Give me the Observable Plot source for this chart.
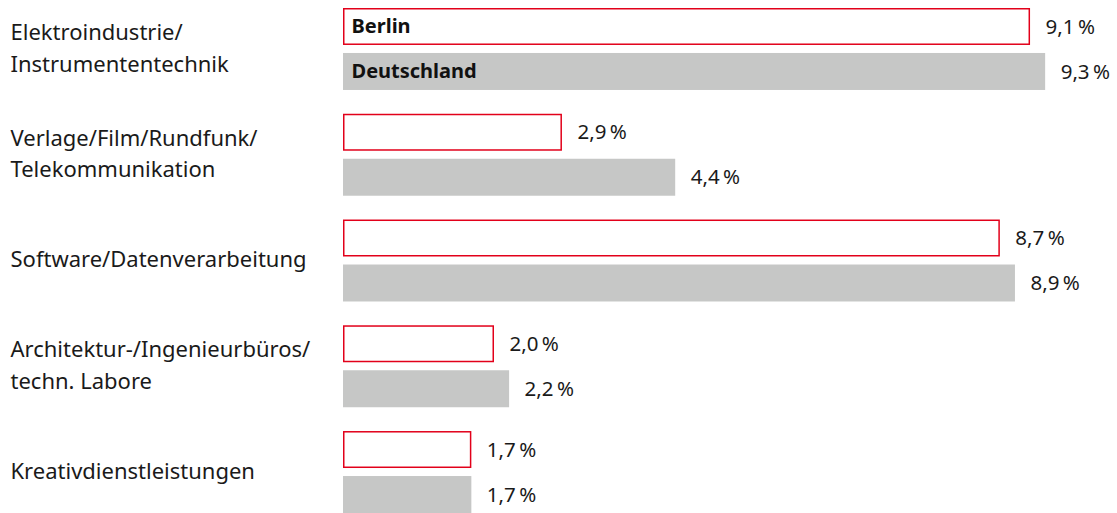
<!DOCTYPE html>
<html>
<head>
<meta charset="utf-8">
<script src="https://cdn.jsdelivr.net/npm/d3@7"></script>
<script src="https://cdn.jsdelivr.net/npm/@observablehq/plot@0.6"></script>
<style>
  html, body { margin: 0; padding: 0; background: #fff; }
  #chart svg { display: block; }
</style>
</head>
<body>
<div id="chart"></div>
<script>
const categories = [
  "Elektroindustrie/\nInstrumententechnik",
  "Verlage/Film/Rundfunk/\nTelekommunikation",
  "Software/Datenverarbeitung",
  "Architektur-/Ingenieurbüros/\ntechn. Labore",
  "Kreativdienstleistungen"
];
const seriesNames = ["Berlin", "Deutschland"];
const berlin = [9.1, 2.9, 8.7, 2.0, 1.7];
const deutschland = [9.3, 4.4, 8.9, 2.2, 1.7];

const rows = [];
categories.forEach((c, i) => {
  rows.push({cat: c, series: "Berlin", value: berlin[i]});
  rows.push({cat: c, series: "Deutschland", value: deutschland[i]});
});
const seriesLabels = seriesNames.map(s => ({cat: categories[0], series: s}));
const fmt = v => v.toFixed(1).replace(".", ",") + "\u2009%";

const RED = "#e2001a";
const GREY = "#c6c7c6";
const FONT = "'Noto Sans', Lato, sans-serif";

const chart = Plot.plot({
  width: 1117,
  height: 513,
  marginLeft: 343,
  marginRight: 19,
  marginTop: 8,
  marginBottom: 0,
  style: {fontFamily: FONT, background: "#fff"},
  x: {domain: [0, 10], axis: null},
  y: {domain: seriesNames, paddingInner: 0.178, paddingOuter: 0, round: false, axis: null},
  fy: {domain: categories, paddingInner: 0.225, paddingOuter: 0, round: false, axis: null},
  marks: [
    Plot.barX(rows.filter(d => d.series === "Deutschland"), {
      x: "value", y: "series", fy: "cat", fill: GREY
    }),
    Plot.barX(rows.filter(d => d.series === "Berlin"), {
      x: "value", y: "series", fy: "cat", fill: "#fff", stroke: RED, strokeWidth: 1.5,
      insetTop: 0.75, insetBottom: 0.75, insetLeft: 0.75, insetRight: 0.75
    }),
    Plot.text(seriesLabels, {
      x: 0, y: "series", fy: "cat", text: "series", dx: 8, textAnchor: "start",
      fontSize: 20, fontWeight: "bold", fill: "#111"
    }),
    Plot.text(rows, {
      x: "value", y: "series", fy: "cat", text: d => fmt(d.value), dx: 15, textAnchor: "start",
      fontSize: 20.5, fill: "#1a1a1a"
    }),
    Plot.text(categories.map(c => ({cat: c})), {
      fy: "cat", text: "cat", frameAnchor: "left", dx: -333, dy: -4, textAnchor: "start",
      lineHeight: 1.45, fontSize: 22, fill: "#1a1a1a"
    })
  ]
});
document.getElementById("chart").appendChild(chart);
</script>
</body>
</html>
